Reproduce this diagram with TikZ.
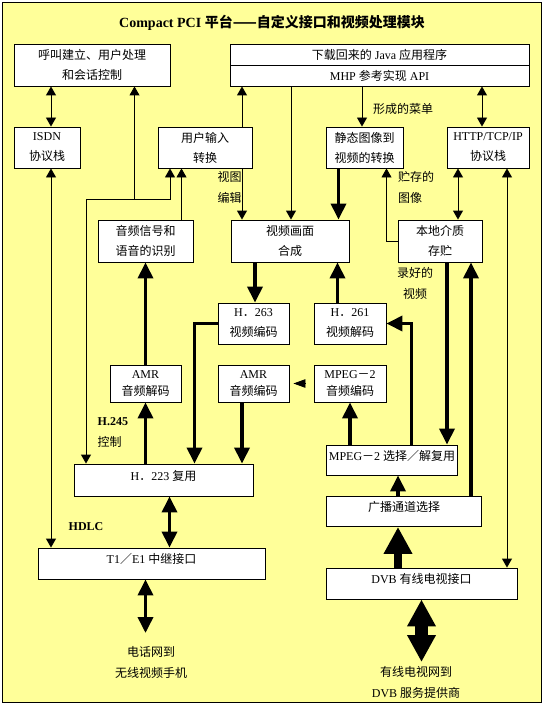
\documentclass[tikz,border=0pt]{standalone}
\usepackage{fontspec}
\setmainfont{Liberation Serif}
\newfontfamily\zhfont{Noto Sans CJK SC}
\newcommand{\zh}[1]{{\zhfont #1}}
\usetikzlibrary{arrows.meta}
\definecolor{paper}{RGB}{255,255,153}

\tikzset{
  box/.style={draw, line width=0.9pt, fill=white, align=center, inner sep=0pt,
    font=\fontsize{12}{20}\selectfont},
  onebox/.style={box, text depth=10pt},
  lbl/.style={align=center, inner sep=0pt, font=\fontsize{12}{21}\selectfont},
  thinarr/.style={line width=0.9pt, -{Triangle[width=10pt,length=9pt]}},
  thinboth/.style={line width=0.9pt, {Triangle[width=10pt,length=9pt]}-{Triangle[width=10pt,length=9pt]}},
  thickarr/.style={line width=3.6pt, -{Triangle[width=15pt,length=16pt]}},
  thickboth/.style={line width=3.6pt, {Triangle[width=15pt,length=16pt]}-{Triangle[width=15pt,length=16pt]}},
  fatarr/.style={line width=8pt, -{Triangle[width=27pt,length=27pt]}},
  fatboth/.style={line width=13pt, {Triangle[width=27pt,length=27pt]}-{Triangle[width=27pt,length=27pt]}},
}

\begin{document}
\begin{tikzpicture}[x=1pt, y=-1pt]
  % Frame
    \useasboundingbox (0,0) rectangle (544,706);
    \draw[line width=1.5pt, fill=paper] (2.5,2.5) rectangle (541.5,702.5);

  % Title
    \node[font=\fontsize{14}{16}\selectfont\bfseries] (title) at (272,23)
      {Compact PCI \zh{平台——自定义接口和视频处理模块}};

  % Top row
    \node[box, minimum width=156pt, minimum height=42pt] (call) at (92,65)
      {\zh{呼叫建立、用户处理}\\\zh{和会话控制}};
    \node[box, minimum width=299pt, minimum height=21pt] (app) at (379.5,54.5)
      {\zh{下载回来的} Java \zh{应用程序}};
    \node[box, minimum width=299pt, minimum height=21pt] (mhp) at (379.5,75.5)
      {MHP \zh{参考实现} API};

  % Second row
    \node[box, minimum width=66pt, minimum height=41pt] (isdn) at (47,147.5)
      {ISDN\\\zh{协议栈}};
    \node[box, minimum width=94pt, minimum height=41pt] (uin) at (205,147.5)
      {\zh{用户输入}\\\zh{转换}};
    \node[box, minimum width=77pt, minimum height=41pt] (still) at (364.5,147.5)
      {\zh{静态图像到}\\\zh{视频的转换}};
    \node[box, minimum width=82pt, minimum height=41pt] (http) at (488,147.5)
      {HTTP/TCP/IP\\\zh{协议栈}};

  % Third row
    \node[box, minimum width=95pt, minimum height=42pt] (audio) at (145.5,241)
      {\zh{音频信号和}\\\zh{语音的识别}};
    \node[box, minimum width=118pt, minimum height=42pt] (comp) at (290,241)
      {\zh{视频画面}\\\zh{合成}};
    \node[box, minimum width=84pt, minimum height=42pt] (local) at (440,241)
      {\zh{本地介质}\\\zh{存贮}};

  % Codecs
    \node[box, minimum width=71pt, minimum height=41pt] (h263) at (253.5,323.5)
      {H\zh{．}263\\\zh{视频编码}};
    \node[box, minimum width=72pt, minimum height=41pt] (h261) at (350,323.5)
      {H\zh{．}261\\\zh{视频解码}};
    \node[box, minimum width=71pt, minimum height=37pt, font=\fontsize{12}{17.5}\selectfont] (amrdec) at (145.5,383.5)
      {AMR\\\zh{音频解码}};
    \node[box, minimum width=71pt, minimum height=37pt, font=\fontsize{12}{17.5}\selectfont] (amrenc) at (253.5,383.5)
      {AMR\\\zh{音频编码}};
    \node[box, minimum width=72pt, minimum height=37pt, font=\fontsize{12}{17.5}\selectfont] (mpa) at (350,383.5)
      {MPEG\zh{－}2\\\zh{音频编码}};

  % Mux and interfaces
    \node[onebox, minimum width=179pt, minimum height=32pt] (h223) at (163.5,480)
      {H\zh{．}223 \zh{复用}};
    \node[onebox, minimum width=131pt, minimum height=30pt] (mps) at (392,460)
      {MPEG\zh{－}2 \zh{选择／解复用}};
    \node[onebox, minimum width=155pt, minimum height=30pt] (bc) at (404,511.5)
      {\zh{广播通道选择}};
    \node[onebox, minimum width=227pt, minimum height=31pt] (t1) at (151.5,563.5)
      {T1\zh{／}E1 \zh{中继接口}};
    \node[onebox, minimum width=191pt, minimum height=31pt] (dvb) at (421.5,583.5)
      {DVB \zh{有线电视接口}};

  % Labels
    \node[lbl] (menu) at (403,109) {\zh{形成的菜单}};
    \node[lbl] (viewedit) at (229.5,187) {\zh{视图}\\\zh{编辑}};
    \node[lbl, align=left, anchor=west] (stored) at (398,187) {\zh{贮存的}\\\zh{图像}};
    \node[lbl] (recorded) at (415,283) {\zh{录好的}\\\zh{视频}};
    \node[lbl, align=left, anchor=west] (h245) at (97.5,432) {\textbf{H.245}\\\zh{控制}};
    \node[lbl, font=\fontsize{12}{14}\selectfont\bfseries] (hdlc) at (86,527) {HDLC};
    \node[lbl] (phone) at (151,662.5) {\zh{电话网到}\\\zh{无线视频手机}};
    \node[lbl] (cable) at (416,682.5) {\zh{有线电视网到}\\DVB \zh{服务提供商}};

  % Thin connectors
    \coordinate (h245turn) at (86,199);
    \coordinate (callturn) at (134.5,199);
    \draw[thinboth] ([xshift=4pt]isdn.north) -- ([xshift=4pt]isdn.north |- call.south);
    \draw[thinboth] ([xshift=4pt]isdn.south) -- ([xshift=4pt]isdn.south |- t1.north);
    \draw[thinarr] (h245turn) -- (h245turn |- h223.north);
    \draw[thinarr] (h245turn) -| ([xshift=-35pt]uin.south);
    \draw[thinarr] (callturn) -- (callturn |- call.south);
    \draw[thinarr] ([xshift=36pt]audio.north) -- ([xshift=36pt]audio.north |- uin.south);
    \draw[thinarr] ([xshift=37pt]uin.north) -- ([xshift=37pt]uin.north |- mhp.south);
    \draw[thinarr] ([xshift=37pt]uin.south) -- ([xshift=37pt]uin.south |- comp.north);
    \draw[thinarr] ([xshift=1pt]comp.north |- mhp.south) -- ([xshift=1pt]comp.north);
    \draw[thinarr] ([xshift=-2.5pt]still.north |- mhp.south) -- ([xshift=-2.5pt]still.north);
    \draw[thinboth] ([xshift=-6pt]http.north) -- ([xshift=-6pt]http.north |- mhp.south);
    \draw[thinboth] ([xshift=-30pt]http.south) -- ([xshift=-30pt]http.south |- local.north);
    \draw[thinboth] ([xshift=19pt]http.south) -- ([xshift=19pt]http.south |- dvb.north);
    \draw[thinarr] (local.west) -| ([xshift=22pt]still.south);

  % Thick connectors
    \draw[thickarr] ([xshift=-26pt]still.south) -- ([xshift=-26pt]still.south |- comp.north);
    \draw[thickarr] ([xshift=-35pt]comp.south) -- ([xshift=-35pt]comp.south |- h263.north);
    \draw[thickarr] ([xshift=-12.5pt]h261.north) -- ([xshift=-12.5pt]h261.north |- comp.south);
    \draw[thickarr] (h263.west) -| ([xshift=31pt]h223.north);
    \draw[thickarr] ([xshift=19.5pt]mps.north) |- (h261.east);
    \draw[thickarr] ([xshift=7pt]local.south) -- ([xshift=7pt]local.south |- mps.north);
    \draw[thickarr] ([xshift=67pt]bc.north) -- ([xshift=67pt]bc.north |- local.south);
    \draw[thickarr] (amrdec.north) -- (amrdec.north |- audio.south);
    \draw[thickarr] (h223.north -| amrdec.south) -- (amrdec.south);
    \draw[thickarr] ([xshift=-11.5pt]amrenc.south) -- ([xshift=-11.5pt]amrenc.south |- h223.north);
    \draw[thickarr] (mps.north -| mpa.south) -- (mpa.south);
    \draw[thickarr] ([xshift=-6pt]bc.north) -- ([xshift=-6pt]bc.north |- mps.south);
    \draw[thickboth] ([xshift=6pt]h223.south) -- ([xshift=6pt]h223.south |- t1.north);
    \coordinate (phoneend) at (145.5,633);
    \draw[thickboth] (t1.south -| phoneend) -- (phoneend);
    \draw[line width=0.9pt, -{Triangle[width=8.5pt,length=12pt]}, shorten <=9pt, shorten >=4pt]
      (mpa.west) -- (amrenc.east);

  % Cable feed
    \draw[fatarr] ([xshift=-23.5pt]dvb.north) -- ([xshift=-23.5pt]dvb.north |- bc.south);
    \coordinate (cableend) at (421.5,662);
    \draw[fatboth] (dvb.south) -- (cableend);

\end{tikzpicture}
\end{document}
